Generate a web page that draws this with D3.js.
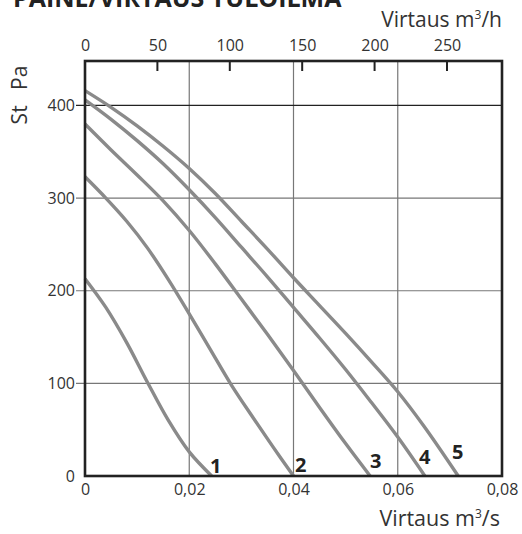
<!DOCTYPE html>
<html>
<head>
<meta charset="utf-8">
<script src="https://cdn.jsdelivr.net/npm/d3@7/dist/d3.min.js"></script>
<style>
  html, body { margin: 0; padding: 0; background: #fff; }
  svg { display: block; font-family: "Open Sans", "DejaVu Sans", sans-serif; }
</style>
</head>
<body>
<svg id="chart" width="522" height="534"></svg>
<script>
// Fan curves: static pressure (Pa) against airflow (m³/s), speeds 1–5
const curveNames = ["1", "2", "3", "4", "5"];
const flow1 = [0, 0.004, 0.008, 0.012, 0.016, 0.020, 0.0243];
const pres1 = [213, 182, 144, 101, 60, 26, 0];
const flow2 = [0, 0.004, 0.008, 0.012, 0.016, 0.020, 0.024, 0.028, 0.032, 0.036, 0.040];
const pres2 = [323, 300, 275, 246, 212, 175, 137, 99, 65, 32, 0];
const flow3 = [0, 0.005, 0.010, 0.015, 0.020, 0.025, 0.030, 0.035, 0.040, 0.045, 0.050, 0.0547];
const pres3 = [380, 352, 325, 297, 265, 229, 191, 153, 114, 74, 35, 0];
const flow4 = [0, 0.005, 0.010, 0.015, 0.020, 0.025, 0.030, 0.035, 0.040, 0.045, 0.050, 0.055, 0.060, 0.0652];
const pres4 = [406, 385, 362, 337, 309, 279, 247, 215, 182, 149, 115, 79, 42, 0];
const flow5 = [0, 0.005, 0.010, 0.015, 0.020, 0.025, 0.030, 0.035, 0.040, 0.045, 0.050, 0.055, 0.060, 0.065, 0.0716];
const pres5 = [416, 398, 378, 356, 332, 305, 275, 245, 214, 184, 154, 123, 91, 54, 0];

const flowTicks = [0, 0.02, 0.04, 0.06, 0.08];
const flowTickLabels = ["0", "0,02", "0,04", "0,06", "0,08"];
const hourTicks = [0, 50, 100, 150, 200, 250];
const presTicks = [0, 100, 200, 300, 400];

const title = "PAINE/VIRTAUS TULOILMA";

const series = curveNames.map((name, i) => {
  const fl = [flow1, flow2, flow3, flow4, flow5][i];
  const pr = [pres1, pres2, pres3, pres4, pres5][i];
  return { name, points: fl.map((f, j) => ({ f, p: pr[j] })) };
});

const svg = d3.select("#chart");
const plotLeft = 85, plotRight = 502, plotTop = 61, plotBottom = 476;

const x = d3.scaleLinear().domain([0, 0.08]).range([plotLeft, plotRight]);
const y = d3.scaleLinear().domain([0, 448]).range([plotBottom, plotTop]);
// m³/h scale shares the pixel span: 0.08 m³/s = 288 m³/h
const xh = d3.scaleLinear().domain([0, 288]).range([plotLeft, plotRight]);

// gridlines
const grid = svg.append("g");
grid.selectAll("line.v").data(flowTicks.slice(1, -1)).join("line")
  .attr("class", "v")
  .attr("x1", d => x(d)).attr("x2", d => x(d))
  .attr("y1", plotTop).attr("y2", plotBottom)
  .attr("stroke", "#777").attr("stroke-width", 1.2);
grid.selectAll("line.h").data(presTicks.slice(1)).join("line")
  .attr("class", "h")
  .attr("x1", plotLeft - 9).attr("x2", plotRight)
  .attr("y1", d => y(d)).attr("y2", d => y(d))
  .attr("stroke", d => d === 400 ? "#222" : "#777").attr("stroke-width", 1.2);

// curves
const line = d3.line().x(d => x(d.f)).y(d => y(d.p)).curve(d3.curveCatmullRom.alpha(0.5));
svg.append("g").selectAll("path").data(series).join("path")
  .attr("d", d => line(d.points))
  .attr("fill", "none").attr("stroke", "#8a8a8a").attr("stroke-width", 3.4)
  .attr("stroke-linecap", "butt");

// frame
svg.append("rect").attr("x", plotLeft).attr("y", plotTop)
  .attr("width", plotRight - plotLeft).attr("height", plotBottom - plotTop)
  .attr("fill", "none").attr("stroke", "#222").attr("stroke-width", 2.6);

// top axis (m³/h)
const topAxis = d3.axisTop(xh).tickValues(hourTicks).tickSize(0).tickPadding(10);
const gt = svg.append("g").attr("transform", `translate(0,${plotTop})`).call(topAxis);
gt.select(".domain").remove();
gt.selectAll("text").attr("font-size", 16).attr("fill", "#333")
  .attr("font-family", "Open Sans, sans-serif");
svg.append("g").selectAll("line").data(hourTicks.slice(1)).join("line")
  .attr("x1", d => xh(d)).attr("x2", d => xh(d))
  .attr("y1", plotTop).attr("y2", plotTop + 10)
  .attr("stroke", "#222").attr("stroke-width", 2);

// bottom axis (m³/s)
const botAxis = d3.axisBottom(x).tickValues(flowTicks)
  .tickFormat((d, i) => flowTickLabels[i]).tickSize(0).tickPadding(8);
const gb = svg.append("g").attr("transform", `translate(0,${plotBottom})`).call(botAxis);
gb.select(".domain").remove();
gb.selectAll("text").attr("font-size", 16).attr("fill", "#333")
  .attr("font-family", "Open Sans, sans-serif");

// left axis (Pa)
const leftAxis = d3.axisLeft(y).tickValues(presTicks).tickSize(0).tickPadding(10);
const gl = svg.append("g").attr("transform", `translate(${plotLeft},0)`).call(leftAxis);
gl.select(".domain").remove();
gl.selectAll("text").attr("font-size", 16).attr("fill", "#333")
  .attr("font-family", "Open Sans, sans-serif");

// axis titles
const topTitle = svg.append("text").attr("x", 502).attr("y", 27)
  .attr("text-anchor", "end").attr("font-size", 21).attr("fill", "#333");
topTitle.append("tspan").text("Virtaus m");
topTitle.append("tspan").attr("font-size", 12).attr("dy", -8).text("3");
topTitle.append("tspan").attr("dy", 8).text("/h");

const botTitle = svg.append("text").attr("x", 500).attr("y", 526)
  .attr("text-anchor", "end").attr("font-size", 21.5).attr("fill", "#333");
botTitle.append("tspan").text("Virtaus m");
botTitle.append("tspan").attr("font-size", 12).attr("dy", -8).text("3");
botTitle.append("tspan").attr("dy", 8).text("/s");

svg.append("text").attr("transform", "translate(27,95) rotate(-90)")
  .attr("text-anchor", "middle").attr("font-size", 21).attr("fill", "#333")
  .attr("word-spacing", 10).text("St Pa");

// chart title (partly above the page edge)
svg.append("text").attr("x", 13).attr("y", 7)
  .attr("font-size", 25).attr("font-weight", "bold").attr("fill", "#222")
  .text(title);

// curve number labels
const labelPos = [[210, 473], [295, 472], [370, 468], [419, 464], [452, 459]];
svg.append("g").selectAll("text").data(curveNames).join("text")
  .attr("x", (d, i) => labelPos[i][0]).attr("y", (d, i) => labelPos[i][1])
  .attr("font-size", 20).attr("font-weight", "bold").attr("fill", "#222")
  .text(d => d);
</script>
</body>
</html>
